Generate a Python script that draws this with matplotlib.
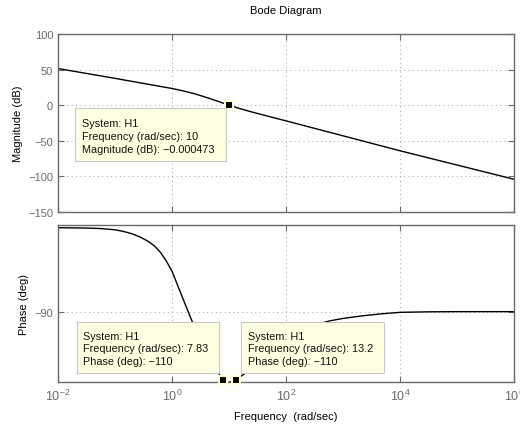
import numpy as np
import matplotlib
matplotlib.use("Agg")
import matplotlib.pyplot as plt
from matplotlib.patches import Rectangle
from matplotlib.ticker import FixedLocator, FuncFormatter, NullLocator

plt.rcParams['font.family'] = ['Liberation Sans', 'DejaVu Sans']
plt.rcParams['mathtext.default'] = 'regular'

# ---- data ----
mag_freq = [0.01, 0.0316, 0.1, 0.316, 0.562, 1, 1.585, 2.512, 3.981, 6.31, 10,
            15.85, 25.12, 39.81, 63.1, 100, 316, 1000, 3162, 1e4, 1e5, 1e6]
mag_db = [51.5, 44.6, 37.7, 30.6, 27.0, 23.5, 20.0, 16.0, 11.0, 5.6, 0.0,
          -5.0, -9.5, -13.7, -17.9, -22.0, -32.5, -43.0, -53.5, -64.0, -84.0, -104.0]

ph_freq = [0.01, 0.0316, 0.0562, 0.1, 0.141, 0.2, 0.282, 0.398, 0.501, 0.631,
           0.794, 1.0, 1.259, 1.585, 1.995, 2.512, 3.162, 3.981, 5.012, 6.31,
           7.83, 9.55, 13.2, 18.6, 31.6, 56.2, 100, 177.8, 316, 479, 589, 1000,
           2239, 5012, 1e4, 31623, 1e5, 1e6]
ph_deg = [-65.2, -65.3, -65.45, -65.8, -66.3, -67.0, -68.0, -69.4, -70.7, -72.5,
          -75.0, -78.0, -82.2, -86.4, -90.6, -94.6, -98.2, -101.6, -104.7, -107.5,
          -110.0, -110.8, -110.0, -108.2, -104.5, -101.0, -98.2, -96.0, -94.3,
          -93.0, -92.6, -91.9, -91.1, -90.5, -90.1, -89.95, -89.9, -89.9]

mag_ticks = [-150, -100, -50, 0, 50, 100]
ph_ticks = [-90]
x_ticks = [1e-2, 1e0, 1e2, 1e4, 1e6]

tip_mag = (10, -0.000473)
tip_ph = [(7.83, -110), (13.2, -110)]
tip_texts = [
    ["System: H1", "Frequency (rad/sec): 10", "Magnitude (dB): \u22120.000473"],
    ["System: H1", "Frequency (rad/sec): 7.83", "Phase (deg): \u2212110"],
    ["System: H1", "Frequency (rad/sec): 13.2", "Phase (deg): \u2212110"],
]

W, H = 520, 427
fig = plt.figure(figsize=(W / 100, H / 100), dpi=100)

def fx(px):
    return px / W

def fy(py):
    return 1 - py / H

ax1 = fig.add_axes([fx(58), fy(213), fx(514) - fx(58), fy(35) - fy(213)])
ax2 = fig.add_axes([fx(58), fy(383), fx(514) - fx(58), fy(226) - fy(383)])

gray = '#6a6a6a'
for ax in (ax1, ax2):
    ax.set_xscale('log')
    ax.set_xlim(1e-2, 1e6)
    ax.xaxis.set_major_locator(FixedLocator(x_ticks))
    ax.xaxis.set_minor_locator(NullLocator())
    ax.grid(True, which='major', color='#a0a0a0', linestyle=(0, (1, 3.5)), linewidth=0.7)
    ax.tick_params(direction='in', length=4, width=0.8, color=gray, labelcolor=gray,
                   labelsize=8, top=True, right=True)
    for s in ax.spines.values():
        s.set_color(gray)
        s.set_linewidth(1.0)

ax1.plot(mag_freq, mag_db, color='black', linewidth=1.0)
ax1.set_ylim(-150, 100)
ax1.set_yticks(mag_ticks)
ax1.set_yticklabels([str(t).replace('-', '\u2212') for t in mag_ticks])
ax1.tick_params(labelbottom=False)
ax1.set_ylabel('Magnitude (dB)', fontsize=8, labelpad=4)
ax1.set_title('Bode Diagram', fontsize=8, pad=15)

ax2.plot(ph_freq, ph_deg, color='black', linewidth=1.0)
ax2.set_ylim(-110.6, -64.4)
ax2.set_yticks(ph_ticks)
ax2.set_yticklabels([str(t).replace('-', '\u2212') for t in ph_ticks])
ax2.xaxis.set_major_formatter(
    FuncFormatter(lambda v, p: r'$10^{%d}$' % int(round(np.log10(v)))))
ax2.tick_params(axis='x', labelsize=9, pad=4)
ax2.set_ylabel('Phase (deg)', fontsize=8, labelpad=4)
ax2.set_xlabel('Frequency  (rad/sec)', fontsize=8, labelpad=6)

mk = dict(marker='s', markersize=6, markerfacecolor='black',
          markeredgecolor='#ffffd0', markeredgewidth=1.5, linestyle='none',
          clip_on=False, zorder=10)
ax1.plot([tip_mag[0]], [tip_mag[1]], **mk)
for f, p in tip_ph:
    ax2.plot([f], [p], **mk)

# datatip boxes (pixel coordinates of the picture)
boxes = [
    ((75, 109, 226, 162), 82, [124, 137, 150]),
    ((77, 323, 219, 374), 83, [337, 349.5, 362]),
    ((241, 323, 384, 374), 247.5, [337, 349.5, 362]),
]
for idx, ((x0, y0, x1, y1), tx, tys) in enumerate(boxes):
    fig.add_artist(Rectangle((fx(x0), fy(y1)), fx(x1) - fx(x0), fy(y0) - fy(y1),
                             transform=fig.transFigure, facecolor='#ffffe1',
                             edgecolor='#c8c8c8', linewidth=0.8, zorder=5))
    for line, ty in zip(tip_texts[idx], tys):
        fig.text(fx(tx), fy(ty), line, fontsize=7.8, color='#111111',
                 ha='left', va='center', zorder=6)

fig.savefig('out.png', dpi=100)
